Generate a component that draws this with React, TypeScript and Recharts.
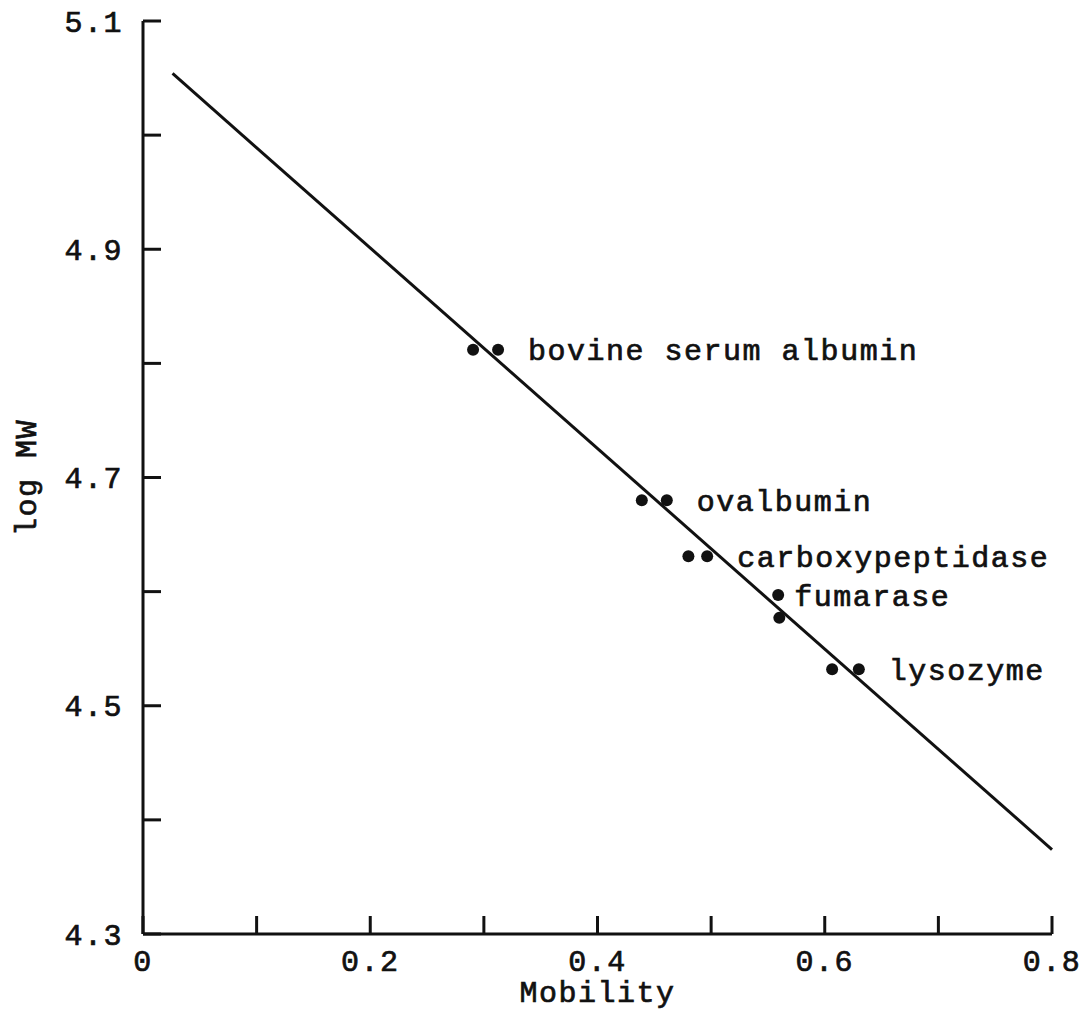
import React from 'react';
import { ScatterChart, Scatter, XAxis, YAxis } from 'recharts';

// protein standards, two runs each
const proteins = ['bovine serum albumin', 'ovalbumin', 'carboxypeptidase', 'fumarase', 'lysozyme'];
const mobilityA = [0.2905, 0.439, 0.48, 0.56, 0.6065];
const logMwA = [4.812, 4.68, 4.631, 4.577, 4.532];
const mobilityB = [0.3125, 0.461, 0.4965, 0.559, 0.63];
const logMwB = [4.812, 4.68, 4.631, 4.597, 4.532];

// fitted standard curve end points
const fitMobility = [0.026, 0.8];
const fitLogMw = [5.054, 4.374];

const xTicks = [0, 0.1, 0.2, 0.3, 0.4, 0.5, 0.6, 0.7, 0.8];
const yTicks = [4.3, 4.4, 4.5, 4.6, 4.7, 4.8, 4.9, 5.0, 5.1];

const FONT = '"Liberation Mono", "DejaVu Sans Mono", monospace';
const INK = '#111';

const runA = proteins.map((name, i) => ({ name, x: mobilityA[i], y: logMwA[i] }));
const runB = proteins.map((name, i) => ({ name, x: mobilityB[i], y: logMwB[i] }));
const fit = fitMobility.map((x, i) => ({ x, y: fitLogMw[i] }));

// typewriter-ish look: a touch of stroke to thicken the glyphs
const textStyle = {
  fontFamily: FONT,
  fontSize: 30,
  letterSpacing: 1.5,
  fill: INK,
  stroke: INK,
  strokeWidth: 0.7,
};

const YTick = (props: any) => {
  const { x, y, payload } = props;
  const v = payload.value as number;
  const labelled = Math.round(v * 10) % 2 === 1;
  return (
    <g>
      <line x1={x} x2={x + 18} y1={y} y2={y} stroke={INK} strokeWidth={3} />
      {labelled && (
        <text x={x - 20} y={y} dy="0.35em" textAnchor="end" style={textStyle}>
          {v.toFixed(1)}
        </text>
      )}
    </g>
  );
};

const XTick = (props: any) => {
  const { x, y, payload } = props;
  const v = payload.value as number;
  const labelled = Math.round(v * 10) % 2 === 0;
  return (
    <g>
      <line x1={x} x2={x} y1={y} y2={y - 18} stroke={INK} strokeWidth={3} />
      {labelled && (
        <text x={x} y={y + 26} dy="0.35em" textAnchor="middle" style={textStyle}>
          {v === 0 ? '0' : v.toFixed(1)}
        </text>
      )}
    </g>
  );
};

const Dot = (props: any) => <circle cx={props.cx} cy={props.cy} r={6} fill={INK} />;

const LabelledDot = (props: any) => {
  const { cx, cy, payload } = props;
  // fumarase pair is stacked vertically, so its label sits closer
  const gap = payload.name === 'fumarase' ? 16 : 30;
  return (
    <g>
      <circle cx={cx} cy={cy} r={6} fill={INK} />
      <text x={cx + gap} y={cy} dy="0.35em" style={textStyle}>
        {payload.name}
      </text>
    </g>
  );
};

const YTitle = (props: any) => {
  const { viewBox } = props;
  const cx = viewBox.x + viewBox.width - 118;
  const cy = viewBox.y + viewBox.height / 2;
  return (
    <text x={cx} y={cy} dy="0.35em" textAnchor="middle" transform={`rotate(-90 ${cx} ${cy})`} style={textStyle}>
      log MW
    </text>
  );
};

const XTitle = (props: any) => {
  const { viewBox } = props;
  return (
    <text x={viewBox.x + viewBox.width / 2} y={viewBox.y + 57} dy="0.35em" textAnchor="middle" style={textStyle}>
      Mobility
    </text>
  );
};

export default function App() {
  return (
    <div style={{ position: 'absolute', left: 0, top: 0, width: 1087, height: 1010, background: '#fff' }}>
      <ScatterChart width={1087} height={1010} margin={{ top: 21, right: 35, bottom: 16, left: 83 }}>
        <XAxis
          type="number"
          dataKey="x"
          domain={[0, 0.8]}
          ticks={xTicks}
          height={60}
          tickSize={0}
          tickMargin={0}
          tickLine={false}
          axisLine={{ stroke: INK, strokeWidth: 3 }}
          tick={<XTick />}
          interval={0}
          label={<XTitle />}
        />
        <YAxis
          type="number"
          dataKey="y"
          domain={[4.3, 5.1]}
          ticks={yTicks}
          width={60}
          tickSize={0}
          tickMargin={0}
          tickLine={false}
          axisLine={{ stroke: INK, strokeWidth: 3 }}
          tick={<YTick />}
          interval={0}
          label={<YTitle />}
        />
        <Scatter data={fit} line={{ stroke: INK, strokeWidth: 3 }} shape={() => <g />} isAnimationActive={false} />
        <Scatter data={runA} shape={<Dot />} isAnimationActive={false} />
        <Scatter data={runB} shape={<LabelledDot />} isAnimationActive={false} />
      </ScatterChart>
    </div>
  );
}
